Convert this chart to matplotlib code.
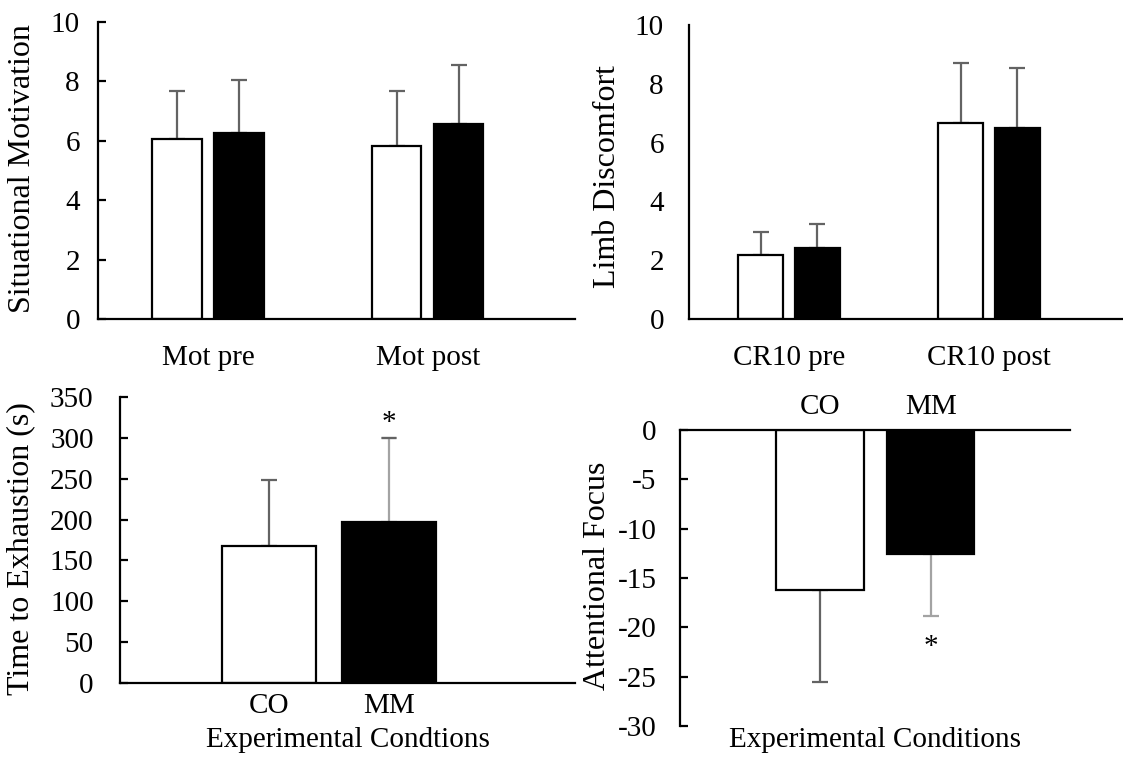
import matplotlib
matplotlib.use("Agg")
import matplotlib.pyplot as plt

plt.rcParams['font.family'] = ['Liberation Serif', 'DejaVu Serif']
plt.rcParams['axes.unicode_minus'] = False
FS = 21
FS_Y = 23

# ---- data ----
groups = ["CO", "MM"]

mot_cats = ["Mot pre", "Mot post"]
mot_co = [6.07, 5.82]
mot_co_sd = [1.59, 1.84]
mot_mm = [6.25, 6.56]
mot_mm_sd = [1.80, 2.00]

cr10_cats = ["CR10 pre", "CR10 post"]
cr10_co = [2.18, 6.66]
cr10_co_sd = [0.77, 2.06]
cr10_mm = [2.40, 6.51]
cr10_mm_sd = [0.82, 2.03]

tte_vals = [167.7, 196.8]
tte_sd = [81.3, 103.2]

focus_vals = [-16.26, -12.55]
focus_sd = [9.24, 6.35]

W, H = 1123, 758
fig = plt.figure(figsize=(W / 100, H / 100), dpi=100)


def px_axes(x0, x1, ytop, ybot):
    return fig.add_axes([x0 / W, (H - ybot) / H, (x1 - x0) / W, (ybot - ytop) / H])


ERR_DARK = "#636363"
ERR_LIGHT = "#a3a3a3"


def style_axes(ax, ticks_in=True, ypad=10):
    for s in ("top", "right"):
        ax.spines[s].set_visible(False)
    for s in ("left", "bottom"):
        ax.spines[s].set_linewidth(1.6)
    ax.tick_params(axis="y", direction="in", length=6 if ticks_in else 0,
                   width=1.6, labelsize=FS, pad=ypad)
    ax.tick_params(axis="x", length=0, labelsize=FS)


def grouped(ax, cats, co, co_sd, mm, mm_sd):
    bw, off = 0.225, 0.141
    xs = list(range(len(cats)))
    xc = [x - off for x in xs]
    xm = [x + off for x in xs]
    ax.bar(xc, co, width=bw, color="white", edgecolor="black", linewidth=1.6, zorder=2)
    ax.bar(xm, mm, width=bw, color="black", edgecolor="black", linewidth=1.6, zorder=2)
    ax.errorbar(xc, co, yerr=[[0] * len(co), co_sd], fmt="none", ecolor=ERR_DARK,
                elinewidth=1.6, capsize=6, capthick=1.6, zorder=1)
    ax.errorbar(xm, mm, yerr=[[0] * len(mm), mm_sd], fmt="none", ecolor=ERR_DARK,
                elinewidth=1.6, capsize=6, capthick=1.6, zorder=1)
    ax.set_xticks(xs)
    ax.set_xticklabels(cats)
    ax.set_xlim(-0.5, 1.67)
    ax.set_ylim(0, 10)
    ax.set_yticks([0, 2, 4, 6, 8, 10])


# ---- Situational motivation ----
ax1 = px_axes(98, 575, 22, 319)
style_axes(ax1, ypad=13)
grouped(ax1, mot_cats, mot_co, mot_co_sd, mot_mm, mot_mm_sd)
ax1.tick_params(axis="x", pad=19)
ax1.set_ylabel("Situational Motivation", fontsize=FS_Y)
ax1.yaxis.set_label_coords(-0.128, 0.508)

# ---- Limb discomfort ----
ax2 = px_axes(689, 1123, 25, 319)
style_axes(ax2, ticks_in=False, ypad=18)
grouped(ax2, cr10_cats, cr10_co, cr10_co_sd, cr10_mm, cr10_mm_sd)
ax2.tick_params(axis="x", pad=19)
ax2.set_ylabel("Limb Discomfort", fontsize=FS_Y)
ax2.yaxis.set_label_coords(-0.154, 0.483)

# ---- Time to exhaustion ----
ax3 = px_axes(120, 575, 397, 683)
style_axes(ax3, ypad=19)
xs = list(range(len(groups)))
ax3.bar(xs, tte_vals, width=0.784, color=["white", "black"], edgecolor="black",
        linewidth=1.6, zorder=2)
ax3.errorbar(xs[0], tte_vals[0], yerr=[[0], [tte_sd[0]]], fmt="none", ecolor=ERR_DARK,
             elinewidth=1.6, capsize=6, capthick=1.6, zorder=1)
ax3.errorbar(xs[1], tte_vals[1], yerr=[[0], [tte_sd[1]]], fmt="none", ecolor=ERR_LIGHT,
             elinewidth=1.6, capsize=6, capthick=1.6, zorder=1)
ax3.plot([xs[1] - 0.05, xs[1] + 0.05], [tte_vals[1] + tte_sd[1]] * 2, color=ERR_DARK,
         lw=1.6, zorder=1)
ax3.text(xs[1], tte_vals[1] + tte_sd[1] + 2, "*", ha="center", va="bottom", fontsize=FS)
ax3.set_xticks(xs)
ax3.set_xticklabels(groups)
ax3.set_xlim(-1.25, 2.56)
ax3.set_ylim(0, 350)
ax3.set_yticks(range(0, 351, 50))
ax3.tick_params(axis="x", pad=7)
ax3.set_xlabel("Experimental Condtions", fontsize=FS, labelpad=6)
ax3.set_ylabel("Time to Exhaustion (s)", fontsize=FS_Y)
ax3.yaxis.set_label_coords(-0.187, 0.469)

# ---- Attentional focus ----
ax4 = px_axes(680, 1070, 430, 726)
for s in ("bottom", "right"):
    ax4.spines[s].set_visible(False)
for s in ("left", "top"):
    ax4.spines[s].set_linewidth(1.6)
ax4.xaxis.tick_top()
ax4.tick_params(axis="x", length=0, labelsize=FS, pad=7)
ax4.tick_params(axis="y", direction="in", length=6, width=1.6, labelsize=FS, pad=17)
ax4.bar(xs, focus_vals, width=0.79, color=["white", "black"], edgecolor="black",
        linewidth=1.6, zorder=2)
ax4.errorbar(xs[0], focus_vals[0], yerr=[[focus_sd[0]], [0]], fmt="none", ecolor=ERR_DARK,
             elinewidth=1.6, capsize=6, capthick=1.6, zorder=1)
ax4.errorbar(xs[1], focus_vals[1], yerr=[[focus_sd[1]], [0]], fmt="none", ecolor=ERR_LIGHT,
             elinewidth=1.6, capsize=6, capthick=1.6, zorder=1)
ax4.text(xs[1], focus_vals[1] - focus_sd[1] - 1.8, "*", ha="center", va="top", fontsize=FS)
ax4.set_xticks(xs)
ax4.set_xticklabels(groups)
ax4.set_xlim(-1.265, 2.26)
ax4.set_ylim(-30, 0)
ax4.set_yticks(range(-30, 1, 5))
ax4.set_xlabel("Experimental Conditions", fontsize=FS, labelpad=1)
ax4.set_ylabel("Attentional Focus", fontsize=FS_Y)
ax4.yaxis.set_label_coords(-0.174, 0.507)

fig.savefig("out.png", dpi=100, facecolor="white")
